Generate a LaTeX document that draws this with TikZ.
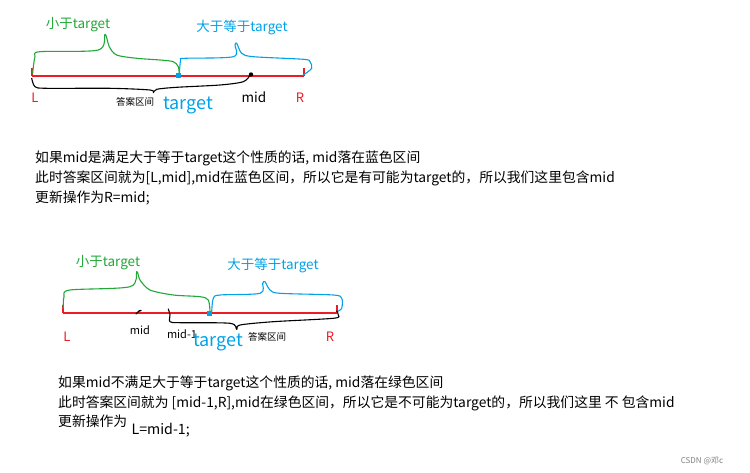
\documentclass[tikz,border=0pt]{standalone}
\usepackage{fontspec}
\setmainfont{Noto Sans CJK SC}
\definecolor{pgreen}{RGB}{34,168,56}
\definecolor{pblue}{RGB}{0,162,232}
\definecolor{pred}{RGB}{237,28,36}
\begin{document}
\begin{tikzpicture}[x=1pt,y=-1pt,
  fs/.style={font=\fontsize{#1}{#1}\selectfont},
  txt/.style={anchor=west,inner sep=0pt,fs=13.8},
  axis/.style={pred,line width=2.4pt},
  tick/.style={pred,line width=1.6pt},
  gbrace/.style={pgreen,line width=1.1pt,line cap=round,line join=round},
  bbrace/.style={pblue,line width=1.1pt,line cap=round,line join=round},
  kbrace/.style={black,line width=1.1pt,line cap=round,line join=round},
  sq/.style={fill=pblue,draw=none,minimum size=5pt,inner sep=0pt},
  lab/.style={inner sep=0pt}]
\path[use as bounding box, fill=white] (0,0) rectangle (750,473);

% ---------- top diagram ----------
\coordinate (L1) at (32,76);
\coordinate (R1) at (304,76);
\draw[axis] (L1) -- (R1);
\draw[tick] (32,68) -- (L1);
\draw[tick] (304,68) -- (R1);
\draw[gbrace] plot[smooth,tension=0.5] coordinates {(32.7,73) (35,56.7) (40,51.7) (98.3,50) (105,34.3) (109.3,46.7) (116.7,55) (136.7,58.3) (160,60) (173.3,61.7) (178.3,66.7) (179.3,75)};
\draw[bbrace] plot[smooth,tension=0.5] coordinates {(179.3,75) (180.7,60) (185,58.3) (233.3,56.7) (235,45) (236.7,43.3) (241.7,53.3) (253.3,56.7) (303.3,59.3) (310,61.7) (311.7,68.3) (303.3,75)};
\draw[kbrace] plot[smooth,tension=0.5] coordinates {(31.7,78.3) (35,86.7) (46.7,88.3) (110,88.3) (150,90) (153.3,92.7) (156.7,89.3) (176.7,87.3) (220,85) (243.3,81.7) (250,75)};
\fill[black] (251,74.5) circle (2.2pt);
\node[sq] (t1) at (178.5,76) {};
\node[lab,pgreen,fs=13.5] (g1) at (78,25) {小于target};
\node[lab,pblue,fs=13.5] (b1) at (242,27) {大于等于target};
\node[lab,fs=9.5] (a1) at (135,102) {答案区间};
\node[lab,pblue,fs=18] (tt1) at (188,105) {target};
\node[lab,fs=13.5] (m1) at (254,97) {mid};
\node[lab,pred,fs=13] (l1) at (35,98) {L};
\node[lab,pred,fs=13] (r1) at (300,98) {R};

% ---------- top text ----------
\node[txt] (p1) at (35,158) {如果mid是满足大于等于target这个性质的话, mid落在蓝色区间};
\node[txt] (p2) at (35,178) {此时答案区间就为[L,mid],mid在蓝色区间，所以它是有可能为target的，所以我们这里包含mid};
\node[txt] (p3) at (35,198) {更新操作为R=mid;};

% ---------- bottom diagram ----------
\coordinate (L2) at (63,313);
\coordinate (R2) at (337,313);
\draw[axis] (L2) -- (R2);
\draw[tick] (63,305) -- (L2);
\draw[tick] (337,305) -- (R2);
\draw[gbrace] plot[smooth,tension=0.5] coordinates {(63.3,308.3) (64,296.7) (70,290) (130,286.7) (136.7,271.7) (140,280) (150,290) (173.3,295) (200,296.7) (208.3,300) (210,311.7)};
\draw[bbrace] plot[smooth,tension=0.5] coordinates {(211.7,311.7) (213.3,298.3) (220,295) (260,293.3) (262.7,283.3) (265,281.7) (270,290) (280,293.3) (333.3,295) (341.7,298.3) (341.7,308.3) (336.7,311.7)};
\draw[kbrace] plot[smooth,tension=0.5] coordinates {(168.3,309) (170,315) (170,321.7) (180,322.7) (230,323.3) (236.7,329.3) (240,325) (273.3,321.7) (333.3,318.3) (338.3,315) (336.7,311)};
\draw[kbrace,line width=1.4pt] (136,314) -- (139,311) -- (141,310.5);
\node[sq] (t2) at (209.5,313) {};
\node[lab,pgreen,fs=13.5] (g2) at (108,263) {小于target};
\node[lab,pblue,fs=13.5] (b2) at (273,265) {大于等于target};
\node[lab,fs=11] (m2) at (140,330) {mid};
\node[lab,fs=11] (mm2) at (182,334) {mid-1};
\node[lab,pblue,fs=18] (tt2) at (218,342) {target};
\node[lab,fs=9.5] (a2) at (267,337) {答案区间};
\node[lab,pred,fs=13] (l2) at (67,337) {L};
\node[lab,pred,fs=13] (r2) at (330,337) {R};

% ---------- bottom text ----------
\node[txt] (q1) at (58,383) {如果mid不满足大于等于target这个性质的话, mid落在绿色区间};
\node[txt] (q2) at (58,403) {此时答案区间就为 [mid-1,R],mid在绿色区间，所以它是不可能为target的，所以我们这里 不 包含mid};
\node[txt] (q3) at (58,421) {更新操作为};
\node[txt,fs=14.2] (q4) at ([xshift=4pt]q3.east |- 0,430) {L=mid-1;};

\node[lab,fs=8,gray] (w) at (702,461) {CSDN @邓c};
\end{tikzpicture}
\end{document}
